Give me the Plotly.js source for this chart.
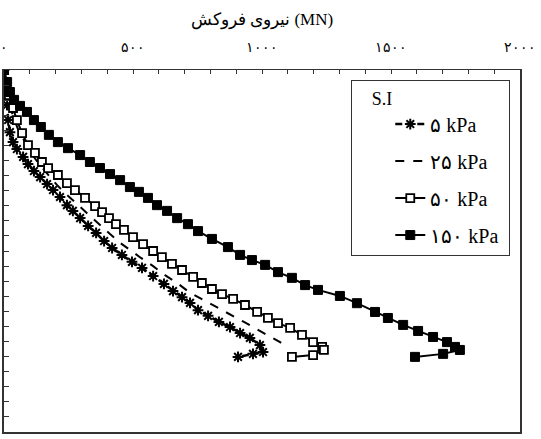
<!DOCTYPE html>
<html>
<head>
<meta charset="utf-8">
<script src="https://cdn.plot.ly/plotly-3.0.1.min.js"></script>
<style>html,body{margin:0;padding:0;background:#fff}#chart{width:541px;height:439px}</style>
</head>
<body>
<div id="chart"></div>
<script>
// Downdrag force (MN) vs. depth (unlabelled axis, arbitrary units, 0 at top)
const x5 = [0,4,12,16,23,35,50,74,93,116,140,167,190,217,244,267,295,326,357,388,419,457,496,535,578,620,655,690,721,752,791,833,876,915,953,992,1004,965,907];
const y5 = [0,6.0,11.6,16.6,20.6,23.9,26.2,28.8,31.2,33.5,35.5,37.8,39.8,42.1,44.8,46.7,49.1,51.7,54.0,56.7,59.0,61.3,63.6,65.6,68.3,70.9,73.3,75.3,77.2,79.6,81.5,83.5,85.2,87.2,88.8,91.2,93.5,94.1,95.1];

const x25 = [0,8,19,35,54,78,105,136,171,205,244,287,329,372,411,450,488,531,578,624,671,717,787,860,930,1000,1070,1085];
const y25 = [0,5.3,10.6,15.2,19.6,23.5,27.5,31.2,34.8,38.1,41.4,44.8,48.1,51.4,54.4,57.3,59.7,62.3,65.0,68.0,70.6,73.6,76.9,80.2,83.5,86.9,90.2,91.2];

const x50 = [0,8,19,35,50,70,93,120,147,171,209,244,275,314,353,380,407,434,465,500,539,578,612,651,690,733,767,806,845,888,934,981,1023,1062,1109,1155,1198,1233,1240,1198,1116];
const y50 = [0,4.0,8.3,12.6,16.6,20.9,24.9,27.5,30.5,32.5,34.8,37.5,39.8,42.4,45.1,47.1,49.1,51.1,53.0,55.4,57.7,60.0,62.0,64.3,66.3,68.6,70.6,72.6,74.3,75.9,77.9,80.2,82.2,83.9,85.5,87.8,90.2,91.8,92.8,94.5,95.1];

const x150 = [0,12,23,39,62,89,116,143,174,209,248,295,333,372,411,450,488,523,558,593,632,671,713,752,806,868,915,961,1012,1062,1116,1167,1217,1302,1368,1438,1488,1547,1605,1663,1717,1748,1767,1702,1593];
const y150 = [0,4.0,7.3,9.9,11.9,13.9,16.6,18.9,21.5,23.9,25.9,28.2,30.5,32.5,34.5,36.5,38.8,40.4,42.4,44.8,46.7,49.1,51.1,53.4,56.0,58.7,61.3,63.0,64.6,67.0,68.9,71.3,72.9,74.9,77.3,80.2,82.2,84.5,86.5,88.5,90.2,91.8,92.8,94.1,95.1];

const seriesNames = ['۵ kPa', '۲۵ kPa', '۵۰ kPa', '۱۵۰ kPa\u00a0'];
const xTickVals = [0,100,200,300,400,500,600,700,800,900,1000,1100,1200,1300,1400,1500,1600,1700,1800,1900,2000];
const xTickText = ['۰','','','','','۵۰۰','','','','','۱۰۰۰','','','','','۱۵۰۰','','','','','۲۰۰۰'];
const xTitle = '\u200Eنیروی فروکش (MN)';
const legendTitle = '\u00a0\u00a0\u00a0\u00a0S.I';

const traces = [
  {x: x5, y: y5, name: seriesNames[0], legendgroup: 'a', mode: 'lines+markers',
   line: {color: '#000', width: 2.5, dash: '7px,4px'},
   marker: {symbol: 'asterisk-open', size: 9, color: '#000', line: {color: '#000', width: 2}}},
  {x: x25, y: y25, name: seriesNames[1], legendgroup: 'b', mode: 'lines',
   line: {color: '#000', width: 2, dash: '9px,9px'}},
  {x: x50, y: y50, name: seriesNames[2], legendgroup: 'c', mode: 'lines+markers',
   line: {color: '#000', width: 2},
   marker: {symbol: 'square', size: 8, color: '#fff', line: {color: '#000', width: 1.8}}},
  {x: x150, y: y150, name: seriesNames[3], legendgroup: 'd', mode: 'lines+markers',
   line: {color: '#000', width: 2},
   marker: {symbol: 'square', size: 9, color: '#000', line: {color: '#000', width: 1}}}
];

const serif = 'Liberation Serif, Times New Roman, DejaVu Serif, serif';
const layout = {
  width: 541, height: 439,
  margin: {l: 4, r: 21, t: 70, b: 7},
  paper_bgcolor: '#fff', plot_bgcolor: '#fff',
  font: {family: serif, color: '#000', size: 14},
  showlegend: true,
  legend: {
    x: 0.672, y: 0.972, xanchor: 'left', yanchor: 'top',
    bgcolor: '#fff', bordercolor: '#333', borderwidth: 1,
    font: {family: serif, size: 20, color: '#000'},
    title: {text: legendTitle, side: 'top left', font: {family: serif, size: 18}},
    tracegroupgap: 8, itemwidth: 30, traceorder: 'grouped'
  },
  xaxis: {
    side: 'top', range: [0, 2000], autorange: false,
    tickmode: 'array', tickvals: xTickVals, ticktext: xTickText,
    ticks: 'inside', ticklen: 4, tickcolor: '#333',
    ticklabelstandoff: 11,
    tickfont: {family: serif, size: 14},
    showgrid: false, zeroline: false,
    showline: true, linecolor: '#333', linewidth: 1.5, mirror: true,
    title: {text: xTitle, font: {family: serif, size: 17}, standoff: 10}
  },
  yaxis: {
    range: [120, 0], autorange: false,
    tickmode: 'linear', tick0: 0, dtick: 5,
    ticks: 'inside', ticklen: 5, tickcolor: '#333',
    showticklabels: false,
    showgrid: false, zeroline: false,
    showline: true, linecolor: '#333', linewidth: 2, mirror: true
  }
};

Plotly.newPlot('chart', traces, layout, {staticPlot: true, displayModeBar: false});
</script>
</body>
</html>
